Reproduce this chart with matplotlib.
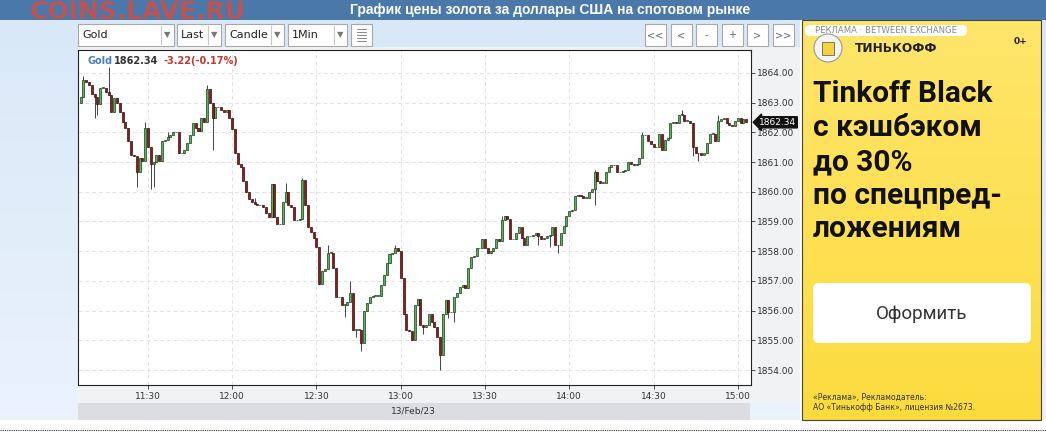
import numpy as np
import matplotlib.pyplot as plt
import matplotlib.ticker as mticker
import matplotlib.transforms as mtrans
from matplotlib.patches import FancyBboxPatch, Circle
from matplotlib.lines import Line2D

W, H = 1046, 437

# ---- data (1-minute candles, 13/Feb/23, from 11:06) ----
start_time = "11:06"
first_open = 1863.0
closes = [
    1863.2, 1863.75, 1863.7, 1863.6, 1863.3, 1863.2, 1862.95, 1863.5, 1863.5, 1863.35,
    1863.25, 1862.7, 1863.15, 1863.0, 1862.7, 1862.35, 1862.15, 1861.7, 1861.25, 1861.2,
    1860.65, 1861.15, 1861.05, 1862.15, 1861.5, 1860.95, 1861.0, 1861.25, 1861.05, 1861.7,
    1861.75, 1861.85, 1861.9, 1862.0, 1862.0, 1861.3, 1861.3, 1861.4, 1861.65, 1861.9,
    1862.3, 1862.15, 1862.05, 1862.5, 1862.35, 1863.45, 1863.0, 1862.5, 1862.85, 1862.85,
    1862.75, 1862.7, 1862.75, 1862.5, 1862.1, 1861.3, 1860.95, 1860.85, 1860.35, 1860.0,
    1859.75, 1859.65, 1859.6, 1859.55, 1859.55, 1859.5, 1859.3, 1859.15, 1860.25, 1859.15,
    1858.9, 1858.9, 1859.65, 1860.0, 1859.55, 1859.5, 1859.05, 1859.05, 1859.1, 1860.4,
    1859.55, 1858.8, 1858.65, 1858.45, 1858.15, 1856.9, 1857.35, 1857.4, 1857.95, 1857.95,
    1857.45, 1856.45, 1856.45, 1856.2, 1856.2, 1856.3, 1856.6, 1855.35, 1855.35, 1855.35,
    1854.9, 1856.0, 1856.25, 1856.45, 1856.5, 1856.5, 1856.5, 1856.85, 1857.2, 1857.6,
    1857.9, 1857.95, 1858.1, 1858.0, 1857.1, 1855.9, 1855.35, 1855.3, 1855.0, 1856.2,
    1856.4, 1855.5, 1855.45, 1855.5, 1855.9, 1855.6, 1855.45, 1855.1, 1854.5, 1855.9,
    1856.35, 1855.95, 1855.95, 1856.45, 1856.6, 1856.8, 1856.85, 1856.75, 1857.45, 1857.8,
    1857.85, 1858.1, 1858.1, 1858.4, 1858.1, 1857.95, 1858.0, 1858.1, 1858.4, 1858.35,
    1859.05, 1859.2, 1859.1, 1858.4, 1858.4, 1858.6, 1858.8, 1858.45, 1858.2, 1858.5,
    1858.5, 1858.55, 1858.6, 1858.5, 1858.4, 1858.45, 1858.5, 1858.55, 1858.8, 1858.2,
    1858.2, 1858.6, 1858.85, 1859.2, 1859.35, 1859.4, 1859.85, 1859.9, 1859.85, 1859.8,
    1859.8, 1860.0, 1860.1, 1860.65, 1860.35, 1860.3, 1860.3, 1860.65, 1860.85, 1860.9,
    1860.9, 1860.65, 1860.65, 1860.7, 1860.75, 1861.0, 1860.95, 1860.9, 1860.95, 1861.15,
    1861.9, 1861.9, 1861.7, 1861.6, 1861.5, 1861.5, 1861.95, 1861.4, 1861.75, 1861.8,
    1862.3, 1862.35, 1862.3, 1862.6, 1862.6, 1862.4, 1862.4, 1862.3, 1861.5, 1861.3,
    1861.3, 1861.25, 1861.3, 1861.65, 1861.95, 1861.95, 1861.7, 1862.4, 1862.45, 1862.5,
    1862.3, 1862.25, 1862.2, 1862.4, 1862.5, 1862.3, 1862.45, 1862.34,
]
# notable wicks (candle index -> price)
hi_idx = [1, 10, 23, 31, 45, 62, 73, 79, 88, 96, 112, 150, 183, 200, 214, 227]
hi_val = [1863.9, 1864.2, 1862.35, 1862.0, 1863.6, 1859.8, 1860.3, 1860.45, 1858.2, 1857.0,
          1858.2, 1859.2, 1860.75, 1862.0, 1862.75, 1862.6]
lo_idx = [5, 6, 20, 25, 26, 47, 94, 98, 100, 122, 128, 131, 133, 163, 167, 170, 183, 218, 220]
lo_val = [1862.5, 1862.6, 1860.15, 1860.1, 1860.15, 1861.4, 1855.8, 1855.1, 1854.65, 1855.2,
          1854.0, 1855.75, 1855.6, 1858.2, 1858.15, 1857.95, 1859.55, 1861.2, 1861.05]

price_ticks = [1854, 1855, 1856, 1857, 1858, 1859, 1860, 1861, 1862, 1863, 1864]
time_ticks = ["11:30", "12:00", "12:30", "13:00", "13:30", "14:00", "14:30", "15:00"]
symbol = "Gold"
change_text = "-3.22(-0.17%)"
date_text = "13/Feb/23"
title = "График цены золота за доллары США на спотовом рынке"

fig = plt.figure(figsize=(W / 100, H / 100), dpi=100)
fig.patch.set_facecolor('white')


def fx(x):
    return x / W


def fy(y):
    return 1 - y / H


def box(x0, y0, x1, y1, fc='none', ec='none', lw=0.8, z=-2, r=0):
    style = "round,pad=0,rounding_size=%g" % r if r else "square,pad=0"
    fig.patches.append(FancyBboxPatch((x0, H - y1), x1 - x0, y1 - y0, boxstyle=style,
                                      fc=fc, ec=ec, lw=lw, zorder=z,
                                      transform=mtrans.IdentityTransform()))


def gradient(x0, y0, x1, y1, c_top, c_bot, z=-10):
    h, w = y1 - y0, x1 - x0
    t = np.linspace(0, 1, h)[:, None, None]
    a = np.array(c_top)[None, None, :] * (1 - t) + np.array(c_bot)[None, None, :] * t
    fig.figimage(np.repeat(a, w, axis=1), xo=x0, yo=H - y1, origin='upper', zorder=z)


# page background
gradient(0, 20, 800, 420, (0.85, 0.91, 0.97), (0.92, 0.95, 0.99))
gradient(1041, 20, W, 420, (0.85, 0.91, 0.97), (0.92, 0.95, 0.99))
box(78, 47, 800, 403, fc='#f1f2f4', z=-5)
box(78, 403, 750, 420, fc='#dcdde0', z=-5)
fig.text(fx(413), fy(411), date_text, fontsize=6.5, color='#333', ha='center', va='center')

# header
box(0, 0, W, 20, fc='#4a78a9', z=-4)
fig.text(fx(30), fy(19), "COINS.LAVE.RU", weight='bold',
         fontsize=18, color='#c8504a', alpha=0.9, va='baseline', ha='left')
fig.text(fx(550), fy(10), title, family='Liberation Sans', weight='bold',
         fontsize=10, color='white', ha='center', va='center')

# toolbar
dropdowns = [("Gold", 78, 174), ("Last", 177, 221), ("Candle", 225, 284), ("1Min", 288, 347)]
for label, x0, x1 in dropdowns:
    box(x0, 24, x1, 46, fc='white', ec='#a8a8a8', z=-3)
    fig.text(fx(x0 + 4), fy(35), label, fontsize=8, color='#222', va='center')
    fig.lines.append(Line2D([fx(x1 - 13)] * 2, [fy(26), fy(44)], transform=fig.transFigure,
                            color='#c8c8c8', lw=0.8))
    fig.text(fx(x1 - 6.5), fy(35), "▼", fontsize=6, color='#777', ha='center', va='center')
box(351, 24, 372, 46, fc='white', ec='#a8a8a8', z=-3)
for k in range(5):
    fig.lines.append(Line2D([fx(357), fx(366)], [fy(29 + 3 * k)] * 2, transform=fig.transFigure,
                            color='#777', lw=0.6))
for k, s in enumerate(["<<", "<", "-", "+", ">", ">>"]):
    x0 = 645 + 25.5 * k
    box(x0, 24, x0 + 21, 46, fc='white', ec='#a8a8a8', z=-3)
    fig.text(fx(x0 + 10.5), fy(35), s, fontsize=7, color='#666', ha='center', va='center')

# candles
ax = fig.add_axes([fx(78), fy(385), 673 / W, 335 / H])
ax.set_facecolor('white')
c = np.array(closes)
o = np.r_[first_open, c[:-1]]
x = np.arange(len(c))
hi = np.maximum(o, c)
lo = np.minimum(o, c)
for i, v in zip(hi_idx, hi_val):
    hi[i] = max(hi[i], v)
for i, v in zip(lo_idx, lo_val):
    lo[i] = min(lo[i], v)
up = c >= o
body = np.maximum(np.abs(c - o), 0.015)
ax.vlines(x, lo, hi, color='#262626', lw=0.6, zorder=2)
ax.bar(x[up], body[up], bottom=np.minimum(o, c)[up], width=0.72, color='#4dbb4d',
       edgecolor='#1d3b1d', lw=0.5, zorder=3)
ax.bar(x[~up], body[~up], bottom=np.minimum(o, c)[~up], width=0.72, color='#8c1c1c',
       edgecolor='#3a0c0c', lw=0.5, zorder=3)

ax.set_xlim(-0.9, 238.7)
ax.set_ylim(1853.495, 1864.774)
h0, m0 = map(int, start_time.split(":"))
xt = [int(t[:2]) * 60 + int(t[3:]) - (h0 * 60 + m0) for t in time_ticks]
ax.set_xticks(xt)
ax.set_xticklabels(time_ticks)
ax.yaxis.tick_right()
ax.set_yticks(price_ticks)
ax.yaxis.set_major_formatter(mticker.FormatStrFormatter('%.2f'))
ax.tick_params(axis='y', direction='out', length=3, width=0.6, labelsize=6.5,
               colors='#333', pad=1.5)
ax.tick_params(axis='x', direction='out', length=3, width=0.6, labelsize=6.5,
               colors='#333', pad=2)
ax.grid(True, color='#e2e2e2', ls=(0, (4, 3)), lw=0.7)
ax.set_axisbelow(True)
for sp in ax.spines.values():
    sp.set_color('#222')
    sp.set_linewidth(0.8)

# last price marker
tr = mtrans.blended_transform_factory(ax.transAxes, ax.transData)
ax.text(1.012, c[-1], "%.2f" % c[-1], transform=tr, fontsize=6.5, color='white',
        va='center', ha='left', clip_on=False, zorder=6,
        bbox=dict(boxstyle='larrow,pad=0.12', fc='#111', ec='#111'))

# quote header
fig.text(fx(88), fy(61), symbol, fontsize=7, weight='bold', color='#4a7ebb', va='center')
fig.text(fx(114), fy(61), "%.2f" % c[-1], fontsize=7, weight='bold', color='#333', va='center')
fig.text(fx(164), fy(61), change_text, fontsize=7, weight='bold', color='#c0392b', va='center')

# advertisement panel
gradient(802, 20, 1041, 420, (1.0, 0.90, 0.42), (0.99, 0.86, 0.24))
box(802, 20, 1041, 420, ec='#444', lw=0.8, z=-1)
box(805, 25, 967, 36, fc='white', z=-1, r=5)
fig.text(fx(886), fy(30.5), "РЕКЛАМА · BETWEEN EXCHANGE", fontsize=6.1, color='#888',
         ha='center', va='center')
fig.patches.append(Circle((828, H - 48), 14, fc='#f4f4f4', ec='#999', lw=0.8,
                          transform=mtrans.IdentityTransform(), zorder=1))
box(822, 42, 834, 55, fc='#f6d23c', ec='#666', lw=0.6, z=2)
fig.text(fx(855), fy(48), "ТИНЬКОФФ", fontsize=8.7, weight='bold', color='#222', va='center')
fig.text(fx(1021), fy(41), "0+", fontsize=6.5, weight='bold', color='#222', va='center',
         ha='center')
ad_lines = ["Tinkoff Black", "с кэшбэком", "до 30%", "по спецпред-", "ложениям"]
ad_base = [102, 136, 170, 204, 237]
for s, yb in zip(ad_lines, ad_base):
    fig.text(fx(813), fy(yb), s, family='Roboto', weight='bold', fontsize=21.5,
             color='#111', va='baseline', ha='left')
box(813, 283, 1031, 343, fc='white', z=1, r=6)
fig.text(fx(922), fy(314), "Оформить", family='Roboto', fontsize=13.5, color='#333',
         ha='center', va='center')
fig.text(fx(813), fy(397), "«Реклама», Рекламодатель:", fontsize=5.5, color='#333',
         va='center')
fig.text(fx(813), fy(408), "АО «Тинькофф Банк», лицензия №2673.", fontsize=5.5,
         color='#333', va='center')

# dotted separator
fig.lines.append(Line2D([0, 1], [fy(430)] * 2, transform=fig.transFigure,
                        color='#333', lw=0.8, ls=(0, (1, 1))))

fig.savefig("out.png", dpi=100)
